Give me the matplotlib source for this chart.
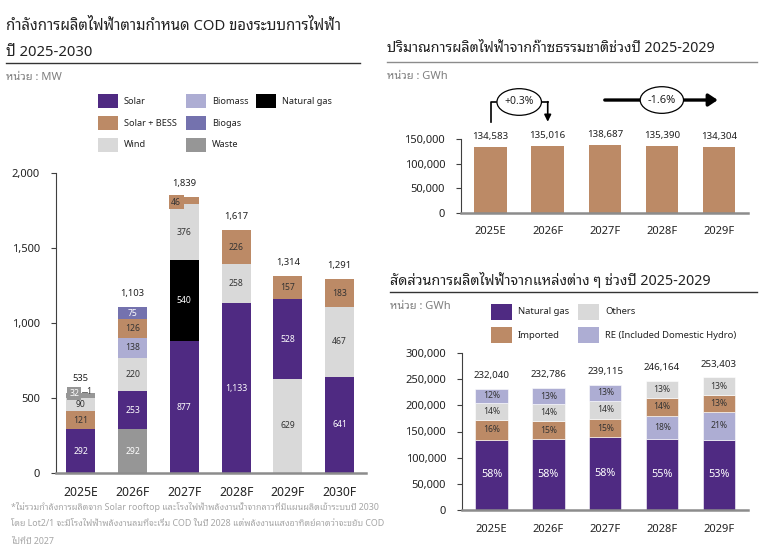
import matplotlib
matplotlib.use("Agg")
import matplotlib.pyplot as plt
from matplotlib.patches import Ellipse, Rectangle

# ---- data -------------------------------------------------------------
years_cod = ["2025E", "2026F", "2027F", "2028F", "2029F", "2030F"]
solar = [292, 253, 877, 1133, 528, 641]
solar_bess = [121, 126, 46, 226, 157, 183]
wind = [90, 220, 376, 258, 629, 467]
biomass = [0, 138, 0, 0, 0, 0]
biogas = [1, 75, 0, 0, 0, 0]
waste = [32, 292, 0, 0, 0, 0]
natural_gas = [0, 0, 540, 0, 0, 0]
cod_totals = [535, 1103, 1839, 1617, 1314, 1291]
cod_order = [
    ["Solar", "Solar + BESS", "Wind", "Waste", "Biogas"],
    ["Waste", "Solar", "Wind", "Biomass", "Solar + BESS", "Biogas"],
    ["Solar", "Natural gas", "Wind", "Solar + BESS"],
    ["Solar", "Wind", "Solar + BESS"],
    ["Wind", "Solar", "Solar + BESS"],
    ["Solar", "Wind", "Solar + BESS"],
]

years_gen = ["2025E", "2026F", "2027F", "2028F", "2029F"]
gas_gwh = [134583, 135016, 138687, 135390, 134304]

mix_totals = [232040, 232786, 239115, 246164, 253403]
pct_gas = [58, 58, 58, 55, 53]
pct_imported = [16, 15, 15, 14, 13]
pct_others = [14, 14, 14, 13, 13]
pct_re = [12, 13, 13, 18, 21]
mix_order = [
    ["Natural gas", "Imported", "Others", "RE"],
    ["Natural gas", "Imported", "Others", "RE"],
    ["Natural gas", "Imported", "Others", "RE"],
    ["Natural gas", "RE", "Imported", "Others"],
    ["Natural gas", "RE", "Imported", "Others"],
]

# ---- style --------------------------------------------------------------
plt.rcParams["font.family"] = ["Noto Sans", "Noto Sans Thai Looped", "DejaVu Sans"]

PURPLE = "#4F2A82"
TAN = "#BC8A66"
LGREY = "#D9D9D9"
LAV = "#ADADD3"
BIOGAS = "#7472AE"
WASTE = "#969696"
TXT = "#222222"
cod_colors = {"Solar": PURPLE, "Solar + BESS": TAN, "Wind": LGREY,
              "Biomass": LAV, "Biogas": BIOGAS, "Waste": WASTE,
              "Natural gas": "black"}
cod_values = {"Solar": solar, "Solar + BESS": solar_bess, "Wind": wind,
              "Biomass": biomass, "Biogas": biogas, "Waste": waste,
              "Natural gas": natural_gas}
dark_text = {"Solar + BESS", "Wind", "Biomass"}

W, H = 763, 552
fig = plt.figure(figsize=(W / 100, H / 100), dpi=100)


def px_axes(left, top, right, bottom):
    return fig.add_axes([left / W, 1 - bottom / H, (right - left) / W, (bottom - top) / H])


def ftext(x, y, s, **kw):
    fig.text(x / W, 1 - y / H, s, **kw)


def fline(x0, x1, y, color, lw):
    fig.add_artist(plt.Line2D([x0 / W, x1 / W], [1 - y / H, 1 - y / H],
                              transform=fig.transFigure, color=color, lw=lw))


def fpatch(x, y, w, h, color):
    fig.add_artist(Rectangle((x / W, 1 - (y + h) / H), w / W, h / H,
                             transform=fig.transFigure, color=color, lw=0))


def style_axes(ax, pad_y, pad_x):
    for s in ["top", "right"]:
        ax.spines[s].set_visible(False)
    ax.spines["left"].set_color("#404040")
    ax.spines["bottom"].set_color("#8C8C8C")
    ax.spines["bottom"].set_linewidth(1.8)
    ax.tick_params(axis="x", length=0, pad=pad_x, colors=TXT)
    ax.tick_params(axis="y", length=3.5, width=0.8, color="#404040", pad=pad_y,
                   labelcolor=TXT)


# ---- left: COD capacity ------------------------------------------------
ftext(6, 30, "กำลังการผลิตไฟฟ้าตามกำหนด COD ของระบบการไฟฟ้า", fontsize=10.7, color=TXT)
ftext(6, 56, "ปี 2025-2030", fontsize=10.7, color=TXT)
fline(6, 360, 63, "#333333", 1.0)
ftext(6, 80, "หน่วย : MW", fontsize=8, color="#7F7F7F")

legend_cols = [(98, ["Solar", "Solar + BESS", "Wind"]),
               (186, ["Biomass", "Biogas", "Waste"]),
               (256, ["Natural gas"])]
for x, names in legend_cols:
    for r, name in enumerate(names):
        yc = 101 + r * 22
        fpatch(x, yc - 7, 20, 14, cod_colors[name])
        ftext(x + 26, yc, name, fontsize=6.6, va="center", color=TXT)

ax1 = px_axes(56, 173, 366, 473)
bw = 0.56
for i, order in enumerate(cod_order):
    bottom = 0
    for name in order:
        v = cod_values[name][i]
        ax1.bar(i, v, bottom=bottom, width=bw, color=cod_colors[name], lw=0)
        tc = "#333333" if name in dark_text else "white"
        if i == 0 and name == "Waste":
            ax1.text(i - 0.13, bottom + v / 2 + 10, str(v), ha="center", va="center",
                     fontsize=6.2, color="white", zorder=5,
                     bbox=dict(boxstyle="square,pad=0.2", fc=WASTE, ec="none"))
        elif i == 0 and name == "Biogas":
            ax1.plot([i + 0.02, i + 0.11], [bottom + 8, bottom + 8], color="#555555", lw=0.6)
            ax1.text(i + 0.16, bottom + 8, str(v), ha="center", va="center",
                     fontsize=6.2, color="#333333")
        elif i == 2 and name == "Solar + BESS":
            ax1.text(i - 0.16, bottom + v / 2 - 10, str(v), ha="center", va="center",
                     fontsize=6.2, color="#333333", zorder=5,
                     bbox=dict(boxstyle="square,pad=0.3", fc=TAN, ec="none"))
        else:
            ax1.text(i, bottom + v / 2, f"{v:,}", ha="center", va="center",
                     fontsize=6.2, color=tc)
        bottom += v
    ax1.annotate(f"{cod_totals[i]:,}", (i, bottom), xytext=(0, 10),
                 textcoords="offset points", ha="center", va="center",
                 fontsize=6.8, fontweight="bold", color=TXT)

ax1.set_xlim(-0.48, 5.51)
ax1.set_ylim(0, 2000)
ax1.set_yticks([0, 500, 1000, 1500, 2000])
ax1.set_yticklabels([f"{t:,}" for t in [0, 500, 1000, 1500, 2000]], fontsize=8)
ax1.set_xticks(range(len(years_cod)))
ax1.set_xticklabels(years_cod, fontsize=8.8)
style_axes(ax1, 8, 9)

foot = ["*ไม่รวมกำลังการผลิตจาก Solar rooftop และโรงไฟฟ้าพลังงานน้ำจากลาวที่มีแผนผลิตเข้าระบบปี 2030",
        "โดย Lot2/1 จะมีโรงไฟฟ้าพลังงานลมที่จะเริ่ม COD ในปี 2028 แต่พลังงานแสงอาทิตย์คาดว่าจะขยับ COD",
        "ไปที่ปี 2027"]
for k, line in enumerate(foot):
    ftext(11, 507 + k * 17, line, fontsize=6.4, color="#A6A6A6", va="center")

# ---- top right: gas generation ----------------------------------------
ftext(387, 52, "ปริมาณการผลิตไฟฟ้าจากก๊าซธรรมชาติช่วงปี 2025-2029", fontsize=10.3, color=TXT)
fline(387, 757, 62, "#8C8C8C", 1.0)
ftext(387, 79, "หน่วย : GWh", fontsize=8, color="#7F7F7F")

ax2 = px_axes(461, 139, 748, 213)
bw2 = 0.57
ax2.bar(range(len(years_gen)), gas_gwh, width=bw2, color=TAN, lw=0)
for i, v in enumerate(gas_gwh):
    ax2.annotate(f"{v:,}", (i, v), xytext=(0, 7.5), textcoords="offset points",
                 ha="center", va="center", fontsize=7, color=TXT,
                 annotation_clip=False)
ax2.set_xlim(-0.52, 4.51)
ax2.set_ylim(0, 150000)
ax2.set_yticks([0, 50000, 100000, 150000])
ax2.set_yticklabels([f"{t:,}" for t in [0, 50000, 100000, 150000]], fontsize=8)
ax2.set_xticks(range(len(years_gen)))
ax2.set_xticklabels(years_gen, fontsize=8)
style_axes(ax2, 8, 9)

# +0.3% bracket
y_top = 225000
ax2.plot([0, 0, 0.1], [184500, y_top, y_top], color="black", lw=1.2, clip_on=False)
ax2.plot([0.9, 1.0], [y_top, y_top], color="black", lw=1.2, clip_on=False)
ax2.annotate("", xy=(1.0, 185000), xytext=(1.0, y_top + 600),
             arrowprops=dict(arrowstyle="-|>", lw=1.2, color="black", mutation_scale=10,
                             shrinkA=0, shrinkB=0), annotation_clip=False)
ax2.add_patch(Ellipse((0.5, y_top), 0.78, 54000, fc="white", ec="black", lw=0.9,
                      clip_on=False, zorder=4))
ax2.text(0.5, y_top, "+0.3%", ha="center", va="center", fontsize=7.5, color=TXT, zorder=5)

# -1.6% trend arrow
y_tr = 229000
ax2.annotate("", xy=(3.98, y_tr), xytext=(2.0, y_tr),
             arrowprops=dict(arrowstyle="-|>,head_length=0.45,head_width=0.3", lw=2.4,
                             color="black", mutation_scale=12, shrinkA=0, shrinkB=0),
             annotation_clip=False)
ax2.add_patch(Ellipse((3.0, y_tr), 0.76, 54000, fc="white", ec="black", lw=0.9,
                      clip_on=False, zorder=4))
ax2.text(3.0, y_tr, "-1.6%", ha="center", va="center", fontsize=8, color=TXT, zorder=5)

# ---- bottom right: generation mix --------------------------------------
ftext(390, 285, "สัดส่วนการผลิตไฟฟ้าจากแหล่งต่าง ๆ ช่วงปี 2025-2029", fontsize=10.3, color=TXT)
fline(390, 757, 292, "#333333", 1.0)
ftext(390, 309, "หน่วย : GWh", fontsize=8, color="#7F7F7F")

mix_colors = {"Natural gas": PURPLE, "Imported": TAN, "Others": LGREY, "RE": LAV}
mix_pct = {"Natural gas": pct_gas, "Imported": pct_imported, "Others": pct_others, "RE": pct_re}
legend_mix = [(491, 312, "Natural gas"), (578, 312, "Others"),
              (491, 335, "Imported"), (578, 335, "RE (Included Domestic Hydro)")]
for x, y, name in legend_mix:
    fpatch(x, y - 8, 21, 16, mix_colors[name.split(" (")[0]])
    ftext(x + 27, y, name, fontsize=6.8, va="center", color=TXT)

ax3 = px_axes(462, 353, 748, 510)
for i, order in enumerate(mix_order):
    bottom = 0
    for name in order:
        p = mix_pct[name][i]
        v = mix_totals[i] * p / 100
        ax3.bar(i, v, bottom=bottom, width=bw2, color=mix_colors[name],
                edgecolor="white", lw=0.4)
        if name == "Natural gas":
            ax3.text(i, bottom + v / 2, f"{p}%", ha="center", va="center",
                     fontsize=7.8, color="white")
        else:
            ax3.text(i, bottom + v / 2, f"{p}%", ha="center", va="center",
                     fontsize=6.2, color="#333333")
        bottom += v
    ax3.annotate(f"{mix_totals[i]:,}", (i, bottom), xytext=(0, 9.5),
                 textcoords="offset points", ha="center", va="center",
                 fontsize=7, color=TXT)
ax3.set_xlim(-0.52, 4.51)
ax3.set_ylim(0, 300000)
ticks3 = [0, 50000, 100000, 150000, 200000, 250000, 300000]
ax3.set_yticks(ticks3)
ax3.set_yticklabels([f"{t:,}" for t in ticks3], fontsize=8)
ax3.set_xticks(range(len(years_gen)))
ax3.set_xticklabels(years_gen, fontsize=8)
style_axes(ax3, 8, 10)

fig.savefig("out.png", dpi=100)
